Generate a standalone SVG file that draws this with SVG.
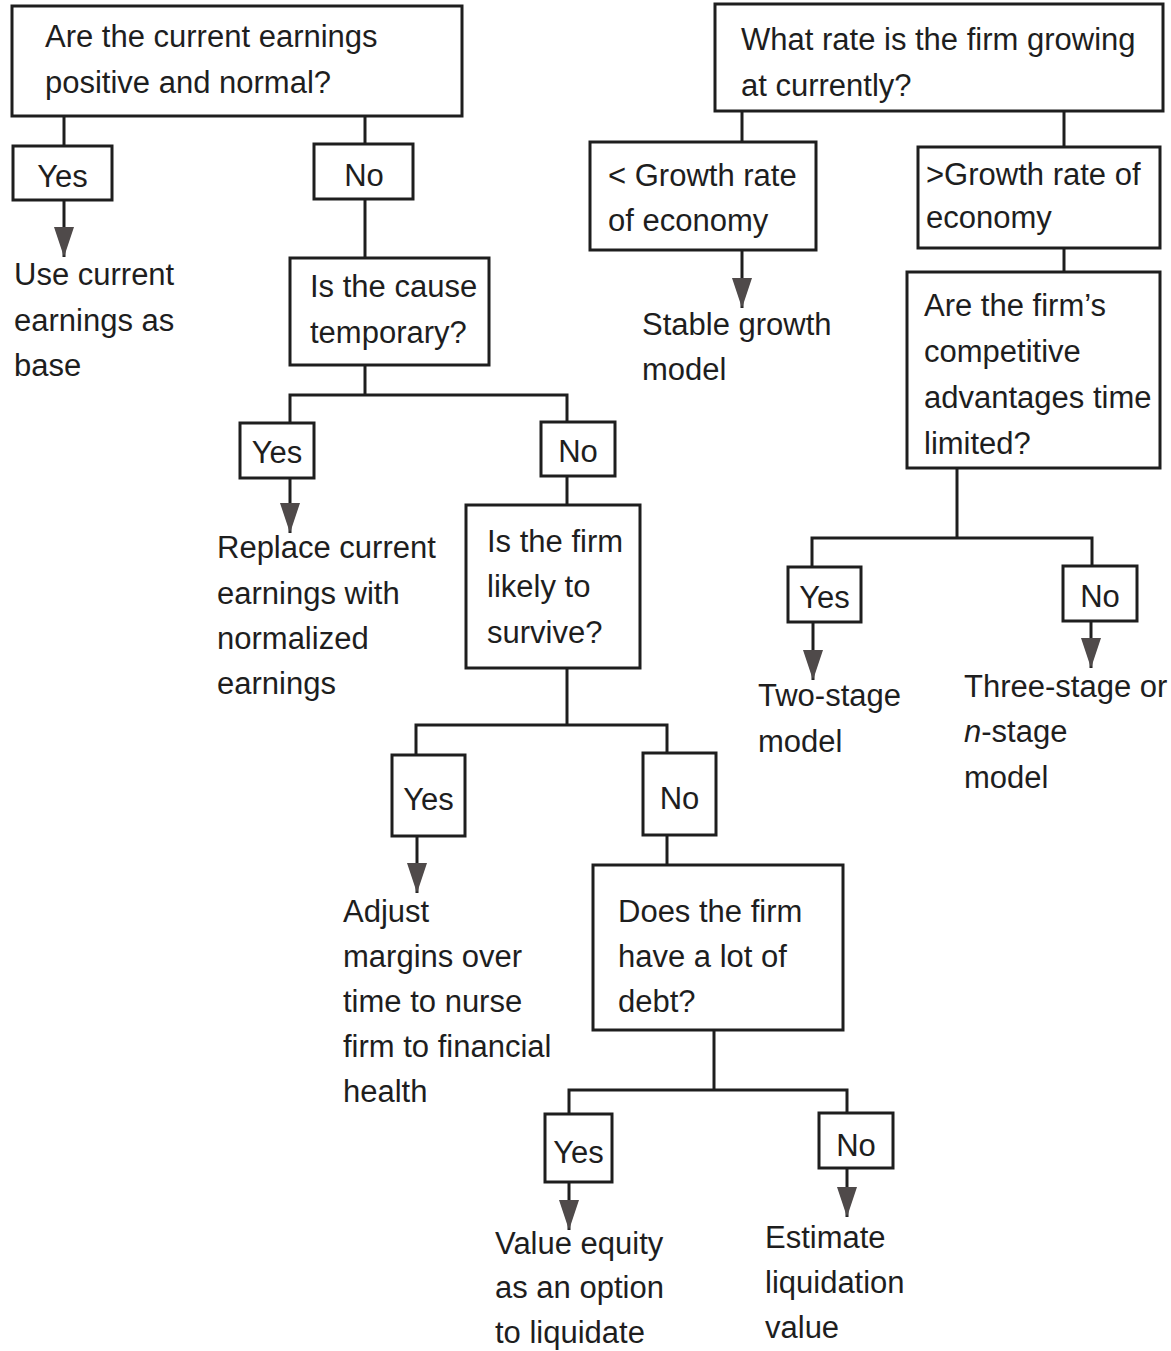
<svg xmlns="http://www.w3.org/2000/svg" width="1171" height="1351" viewBox="0 0 1171 1351">
<defs>
<style>
.box{fill:#ffffff;stroke:#1e1e1e;stroke-width:3}
.t{font-family:"Liberation Sans",Arial,sans-serif;font-size:31px;fill:#1e1e1e}
.c{text-anchor:middle}
.ln{fill:none;stroke:#1e1e1e;stroke-width:3}
</style>
<marker id="ah" markerUnits="userSpaceOnUse" viewBox="0 -10 30 20" refX="30" refY="0" markerWidth="30" markerHeight="20" orient="auto">
<path d="M0,-10 L30,0 L0,10 Z" fill="#4f4a4a"/>
</marker>
</defs>
<rect width="1171" height="1351" fill="#ffffff"/>
<g id="connectors">
<path class="ln" d="M64,116 V146"/>
<path class="ln" d="M365,116 V144"/>
<path class="ln" d="M64,200 V257" marker-end="url(#ah)"/>
<path class="ln" d="M365,199 V258"/>
<path class="ln" d="M365,365 V395"/>
<path class="ln" d="M290,423 V395 H567 V422"/>
<path class="ln" d="M290,478 V533" marker-end="url(#ah)"/>
<path class="ln" d="M567,476 V505"/>
<path class="ln" d="M567,668 V725"/>
<path class="ln" d="M416,755 V725 H667 V753"/>
<path class="ln" d="M417,836 V893" marker-end="url(#ah)"/>
<path class="ln" d="M667,835 V865"/>
<path class="ln" d="M714,1030 V1090"/>
<path class="ln" d="M569,1114 V1090 H847 V1113"/>
<path class="ln" d="M569,1182 V1230" marker-end="url(#ah)"/>
<path class="ln" d="M847,1168 V1217" marker-end="url(#ah)"/>
<path class="ln" d="M742,111 V142"/>
<path class="ln" d="M1064,111 V147"/>
<path class="ln" d="M742,250 V308" marker-end="url(#ah)"/>
<path class="ln" d="M1064,248 V273"/>
<path class="ln" d="M957,468 V538"/>
<path class="ln" d="M812,567 V538 H1092 V566"/>
<path class="ln" d="M813,622 V680" marker-end="url(#ah)"/>
<path class="ln" d="M1091,621 V668" marker-end="url(#ah)"/>
</g>
<g id="q1">
<rect class="box" x="12" y="6" width="450" height="110"/>
<text class="t" x="45" y="47">Are the current earnings</text>
<text class="t" x="45" y="93">positive and normal?</text>
</g>
<g id="q1-yes">
<rect class="box" x="13" y="146" width="99" height="54"/>
<text class="t c" x="62.5" y="187">Yes</text>
</g>
<g id="q1-no">
<rect class="box" x="314" y="144" width="99" height="55"/>
<text class="t c" x="364" y="186">No</text>
</g>
<g id="r1">
<text class="t" x="14" y="285">Use current</text>
<text class="t" x="14" y="331">earnings as</text>
<text class="t" x="14" y="376">base</text>
</g>
<g id="q2">
<rect class="box" x="290" y="258" width="199" height="107"/>
<text class="t" x="310" y="297">Is the cause</text>
<text class="t" x="310" y="343">temporary?</text>
</g>
<g id="q2-yes">
<rect class="box" x="240" y="423" width="74" height="55"/>
<text class="t c" x="277" y="463">Yes</text>
</g>
<g id="q2-no">
<rect class="box" x="541" y="422" width="74" height="54"/>
<text class="t c" x="578" y="462">No</text>
</g>
<g id="r2">
<text class="t" x="217" y="558">Replace current</text>
<text class="t" x="217" y="604">earnings with</text>
<text class="t" x="217" y="649">normalized</text>
<text class="t" x="217" y="694">earnings</text>
</g>
<g id="q3">
<rect class="box" x="466" y="505" width="174" height="163"/>
<text class="t" x="487" y="552">Is the firm</text>
<text class="t" x="487" y="597">likely to</text>
<text class="t" x="487" y="643">survive?</text>
</g>
<g id="q3-yes">
<rect class="box" x="392" y="755" width="73" height="81"/>
<text class="t c" x="428.5" y="810">Yes</text>
</g>
<g id="q3-no">
<rect class="box" x="643" y="753" width="73" height="82"/>
<text class="t c" x="679.5" y="809">No</text>
</g>
<g id="r3">
<text class="t" x="343" y="922">Adjust</text>
<text class="t" x="343" y="967">margins over</text>
<text class="t" x="343" y="1012">time to nurse</text>
<text class="t" x="343" y="1057">firm to financial</text>
<text class="t" x="343" y="1102">health</text>
</g>
<g id="q4">
<rect class="box" x="593" y="865" width="250" height="165"/>
<text class="t" x="618" y="922">Does the firm</text>
<text class="t" x="618" y="967">have a lot of</text>
<text class="t" x="618" y="1012">debt?</text>
</g>
<g id="q4-yes">
<rect class="box" x="545" y="1114" width="67" height="68"/>
<text class="t c" x="578.5" y="1163">Yes</text>
</g>
<g id="q4-no">
<rect class="box" x="819" y="1113" width="74" height="55"/>
<text class="t c" x="856" y="1156">No</text>
</g>
<g id="r4a">
<text class="t" x="495" y="1254">Value equity</text>
<text class="t" x="495" y="1298">as an option</text>
<text class="t" x="495" y="1343">to liquidate</text>
</g>
<g id="r4b">
<text class="t" x="765" y="1248">Estimate</text>
<text class="t" x="765" y="1293">liquidation</text>
<text class="t" x="765" y="1338">value</text>
</g>
<g id="p1">
<rect class="box" x="715" y="4" width="448" height="107"/>
<text class="t" x="741" y="50">What rate is the firm growing</text>
<text class="t" x="741" y="96">at currently?</text>
</g>
<g id="p1-lt">
<rect class="box" x="590" y="142" width="226" height="108"/>
<text class="t" x="608" y="186">&lt; Growth rate</text>
<text class="t" x="608" y="231">of economy</text>
</g>
<g id="p1-gt">
<rect class="box" x="918" y="147" width="242" height="101"/>
<text class="t" x="926" y="185">&gt;Growth rate of</text>
<text class="t" x="926" y="228">economy</text>
</g>
<g id="r5">
<text class="t" x="642" y="335">Stable growth</text>
<text class="t" x="642" y="380">model</text>
</g>
<g id="p2">
<rect class="box" x="907" y="272" width="253" height="196"/>
<text class="t" x="924" y="316">Are the firm’s</text>
<text class="t" x="924" y="362">competitive</text>
<text class="t" x="924" y="408">advantages time</text>
<text class="t" x="924" y="454">limited?</text>
</g>
<g id="p2-yes">
<rect class="box" x="788" y="567" width="73" height="55"/>
<text class="t c" x="824.5" y="608">Yes</text>
</g>
<g id="p2-no">
<rect class="box" x="1063" y="566" width="74" height="55"/>
<text class="t c" x="1100" y="607">No</text>
</g>
<g id="r6">
<text class="t" x="758" y="706">Two-stage</text>
<text class="t" x="758" y="752">model</text>
</g>
<g id="r7">
<text class="t" x="964" y="697">Three-stage or</text>
<text class="t" x="964" y="742"><tspan font-style="italic">n</tspan>-stage</text>
<text class="t" x="964" y="788">model</text>
</g>
</svg>
